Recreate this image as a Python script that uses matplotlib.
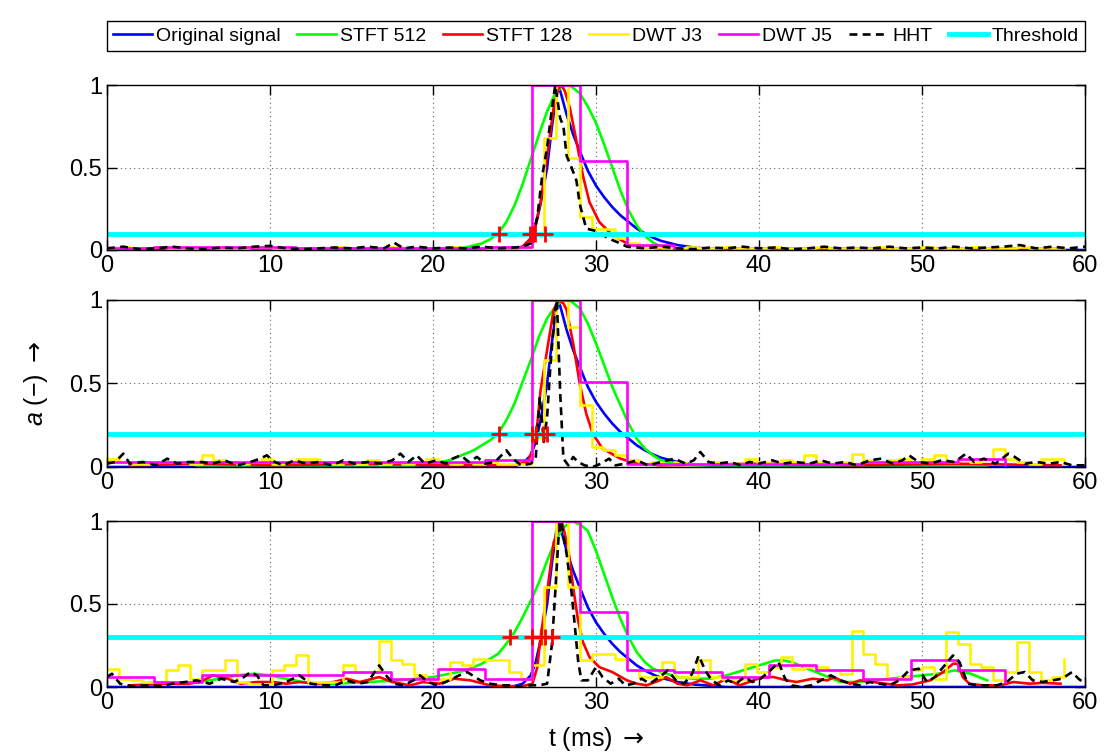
import numpy as np
import matplotlib
matplotlib.use("Agg")
import matplotlib.pyplot as plt

plt.rcParams['font.family'] = ['Liberation Sans', 'DejaVu Sans']
plt.rcParams['mathtext.fontset'] = 'custom'
plt.rcParams['mathtext.it'] = 'Liberation Sans:italic'
plt.rcParams['mathtext.rm'] = 'Liberation Sans'
plt.rcParams['mathtext.sf'] = 'DejaVu Sans'

# ---- data (t in ms, a normalised amplitude) ----
labels = ["Original signal", "STFT 512", "STFT 128", "DWT J3", "DWT J5", "HHT", "Threshold"]
thresholds = [0.1, 0.2, 0.3]

# block lengths of the wavelet decompositions (ms)
j3_block = 0.725
j5_block = 2.9

original_signal = [(0, 0), (24, 0), (25, 0.005), (25.5, 0.02), (26.0, 0.07), (26.3, 0.15), (26.6, 0.28),
                   (27.0, 0.50), (27.3, 0.75), (27.55, 0.93), (27.7, 1.0), (27.9, 0.93), (28.2, 0.82),
                   (28.6, 0.70), (29.0, 0.60), (29.5, 0.48), (30.0, 0.39), (30.5, 0.32), (31.0, 0.26),
                   (31.5, 0.21), (32.0, 0.17), (32.5, 0.13), (33.0, 0.10), (33.5, 0.075), (34.0, 0.055),
                   (35.0, 0.03), (36.0, 0.015), (38, 0), (60, 0)]

stft512_top = [(5.5, 0.005), (21, 0.005), (22, 0.015), (23, 0.04), (23.5, 0.065), (24, 0.10), (24.5, 0.17),
               (25, 0.27), (25.5, 0.40), (26, 0.55), (26.5, 0.70), (27, 0.84), (27.5, 0.95), (28, 1.0),
               (28.5, 0.99), (29, 0.95), (29.5, 0.87), (30, 0.77), (30.5, 0.64), (31, 0.50), (31.5, 0.36),
               (32, 0.24), (32.5, 0.15), (33, 0.085), (33.5, 0.045), (34, 0.02), (35, 0.005), (54, 0.005)]
stft512_mid = [(5.5, 0.01), (19, 0.01), (20, 0.02), (21, 0.04), (22, 0.08), (22.5, 0.10), (23, 0.13),
               (23.5, 0.16), (24, 0.20), (24.5, 0.28), (25, 0.38), (25.5, 0.51), (26, 0.64), (26.5, 0.78),
               (27, 0.89), (27.5, 0.96), (28, 1.0), (28.5, 0.99), (29, 0.95), (29.5, 0.86), (30, 0.74),
               (30.5, 0.61), (31, 0.48), (31.5, 0.37), (32, 0.26), (32.5, 0.17), (33, 0.11), (33.5, 0.07),
               (34, 0.04), (35, 0.02), (36, 0.01), (54, 0.01)]
stft512_bot = [(5.5, 0.03), (7, 0.05), (8, 0.07), (9, 0.08), (10, 0.07), (11, 0.05), (12, 0.03), (13, 0.02),
               (14, 0.02), (16, 0.03), (18, 0.04), (19, 0.05), (20, 0.06), (21, 0.08), (22, 0.10), (23, 0.14),
               (24, 0.20), (24.5, 0.26), (25, 0.33), (25.5, 0.42), (26, 0.52), (26.5, 0.63), (27, 0.76),
               (27.5, 0.88), (28, 0.96), (28.5, 1.0), (29, 0.98), (29.5, 0.94), (30, 0.82), (30.5, 0.68),
               (31, 0.54), (31.5, 0.41), (32, 0.30), (32.5, 0.21), (33, 0.15), (33.5, 0.11), (34, 0.09),
               (35, 0.06), (36, 0.05), (37, 0.05), (38, 0.07), (39, 0.10), (40, 0.13), (41, 0.16),
               (41.5, 0.16), (42, 0.15), (43, 0.11), (44, 0.07), (45, 0.03), (46, 0.03), (47, 0.04),
               (48, 0.05), (49, 0.06), (50, 0.07), (51, 0.08), (52, 0.10), (53, 0.08), (54, 0.04)]

stft128_top = [(1.4, 0.01), (25, 0.01), (25.5, 0.02), (26.0, 0.07), (26.3, 0.15), (26.6, 0.29), (27.0, 0.57),
               (27.4, 0.86), (27.7, 0.98), (27.9, 1.0), (28.1, 0.96), (28.4, 0.86), (28.8, 0.66), (29.2, 0.45),
               (29.6, 0.29), (30.2, 0.17), (31.0, 0.09), (31.9, 0.04), (32.7, 0.02), (34, 0.01), (58.5, 0.01)]
stft128_mid = [(1.4, 0.01), (6, 0.02), (10, 0.01), (16, 0.02), (20, 0.01), (25, 0.01), (25.8, 0.03),
               (26.1, 0.10), (26.4, 0.26), (26.6, 0.46), (27.0, 0.70), (27.4, 0.94), (27.7, 1.0), (28.0, 0.98),
               (28.2, 0.94), (28.6, 0.74), (29.0, 0.50), (29.4, 0.32), (29.8, 0.20), (30.4, 0.11), (31.5, 0.05),
               (32.5, 0.02), (34, 0.01), (40, 0.02), (46, 0.01), (52, 0.02), (58.5, 0.01)]
stft128_bot = [(1.4, 0.01), (3.7, 0.02), (5.0, 0.02), (5.7, 0.03), (6.5, 0.07), (7.4, 0.05), (8.2, 0.02),
               (9.2, 0.03), (10.2, 0.03), (11.0, 0.02), (11.8, 0.03), (12.9, 0.02), (13.9, 0.03), (14.7, 0.05),
               (15.5, 0.03), (16.7, 0.06), (17.5, 0.03), (18.6, 0.01), (19.4, 0.03), (20.4, 0.02), (21.3, 0.05),
               (22.3, 0.04), (23.5, 0.01), (24.5, 0.005), (25.5, 0.005), (26.1, 0.02), (26.4, 0.12),
               (26.6, 0.30), (27.0, 0.57), (27.4, 0.87), (27.9, 1.0), (28.3, 0.83), (28.6, 0.60), (28.9, 0.40),
               (29.2, 0.27), (29.6, 0.18), (30.2, 0.12), (31.0, 0.09), (31.9, 0.04), (32.5, 0.02), (33.1, 0.01),
               (33.9, 0.04), (34.3, 0.06), (35.0, 0.02), (35.6, 0.01), (36.4, 0.04), (37.2, 0.01), (38.0, 0.05),
               (38.8, 0.01), (39.4, 0.03), (40.2, 0.06), (40.9, 0.06), (41.7, 0.04), (42.3, 0.03), (43.3, 0.05),
               (44.2, 0.04), (44.6, 0.06), (45.0, 0.04), (45.6, 0.02), (46.2, 0.04), (47.0, 0.03), (48.5, 0.01),
               (49.4, 0.015), (50.5, 0.04), (51.3, 0.09), (51.9, 0.14), (52.2, 0.14), (52.5, 0.06), (52.9, 0.02),
               (53.7, 0.01), (54.8, 0.01), (55.6, 0.03), (56.6, 0.02), (57.4, 0.025), (58.5, 0.02)]

# DWT block values (one per block), last entry is the closing value
dwt_j3_top = [0.01, 0.02, 0.01, 0.01, 0.02, 0.01, 0.01, 0.01, 0.02, 0.01,
              0.01, 0.01, 0.02, 0.02, 0.01, 0.01, 0.01, 0.01, 0.01, 0.02,
              0.01, 0.01, 0.01, 0.01, 0.02, 0.01, 0.01, 0.01, 0.01, 0.02,
              0.01, 0.01, 0.01, 0.01, 0.01, 0.02, 0.10, 0.68, 1.0, 0.56,
              0.20, 0.13, 0.13, 0.07, 0.04, 0.02, 0.02, 0.01, 0.01, 0.02,
              0.01, 0.01, 0.02, 0.01, 0.01, 0.01, 0.02, 0.01, 0.01, 0.01,
              0.02, 0.01, 0.01, 0.01, 0.01, 0.02, 0.01, 0.01, 0.01, 0.02,
              0.01, 0.01, 0.01, 0.02, 0.01, 0.01, 0.01, 0.02, 0.01, 0.01, 0.01, 0.01]
dwt_j3_mid = [0.05, 0.03, 0.02, 0.02, 0.03, 0.03, 0.03, 0.02, 0.07, 0.04,
              0.03, 0.02, 0.03, 0.05, 0.02, 0.03, 0.05, 0.05, 0.03, 0.02,
              0.03, 0.02, 0.04, 0.02, 0.03, 0.02, 0.03, 0.05, 0.03, 0.02,
              0.03, 0.02, 0.03, 0.02, 0.02, 0.02, 0.18, 0.64, 1.0, 0.84,
              0.37, 0.12, 0.10, 0.07, 0.04, 0.02, 0.03, 0.02, 0.03, 0.02,
              0.02, 0.03, 0.02, 0.02, 0.05, 0.03, 0.02, 0.04, 0.03, 0.07,
              0.03, 0.02, 0.03, 0.08, 0.04, 0.03, 0.04, 0.05, 0.03, 0.05,
              0.07, 0.03, 0.04, 0.03, 0.04, 0.11, 0.05, 0.03, 0.02, 0.05, 0.05, 0.02]
dwt_j3_bot = [0.11, 0.05, 0.04, 0.03, 0.03, 0.10, 0.13, 0.05, 0.10, 0.10,
              0.16, 0.03, 0.02, 0.02, 0.10, 0.13, 0.19, 0.03, 0.03, 0.03,
              0.13, 0.09, 0.09, 0.28, 0.16, 0.14, 0.07, 0.04, 0.05, 0.15,
              0.13, 0.17, 0.16, 0.16, 0.09, 0.05, 0.13, 0.60, 1.0, 0.60,
              0.16, 0.20, 0.20, 0.17, 0.10, 0.06, 0.06, 0.15, 0.06, 0.06,
              0.16, 0.06, 0.05, 0.05, 0.14, 0.09, 0.12, 0.18, 0.11, 0.12,
              0.12, 0.10, 0.08, 0.34, 0.20, 0.14, 0.05, 0.06, 0.10, 0.12,
              0.05, 0.33, 0.26, 0.14, 0.12, 0.04, 0.09, 0.27, 0.09, 0.04, 0.06, 0.17]

dwt_j5_top = [0.01, 0.02, 0.02, 0.02, 0.01, 0.01, 0.01, 0.01, 0.02, 1.0, 0.54, 0.03, 0.0]
dwt_j5_mid = [0.03, 0.03, 0.03, 0.03, 0.03, 0.03, 0.03, 0.03, 0.04, 1.0,
              0.51, 0.02, 0.02, 0.02, 0.02, 0.02, 0.03, 0.03, 0.05, 0.0]
dwt_j5_bot = [0.06, 0.03, 0.07, 0.07, 0.07, 0.09, 0.05, 0.11, 0.05, 1.0,
              0.45, 0.10, 0.09, 0.06, 0.13, 0.10, 0.05, 0.16, 0.10, 0.03]

hht_top = [(0, 0.01), (1, 0.02), (2, 0.005), (3, 0.01), (4, 0.02), (5, 0.01), (6, 0.005), (7, 0.015),
           (8, 0.01), (9, 0.02), (10, 0.025), (11, 0.01), (12, 0.005), (13, 0.01), (14, 0.015), (15, 0.01),
           (16, 0.02), (17, 0.01), (17.6, 0.045), (18.2, 0.01), (19, 0.02), (20, 0.01), (21, 0.015),
           (22, 0.01), (23, 0.02), (24, 0.01), (25, 0.015), (25.5, 0.02), (26.0, 0.04), (26.4, 0.2),
           (26.7, 0.45), (27.0, 0.62), (27.3, 0.86), (27.5, 1.0), (27.65, 0.9), (27.8, 0.8), (28.0, 0.75),
           (28.2, 0.57), (28.5, 0.5), (28.8, 0.42), (29.0, 0.28), (29.4, 0.13), (29.8, 0.12), (30.2, 0.11),
           (30.6, 0.08), (31.0, 0.06), (31.5, 0.04), (31.9, 0.02), (32.5, 0.015), (33, 0.01), (34, 0.02),
           (35, 0.01), (36, 0.005), (37, 0.015), (38, 0.01), (39, 0.02), (40, 0.01), (41, 0.015), (42, 0.005),
           (43, 0.01), (44, 0.02), (45, 0.01), (46, 0.015), (47, 0.01), (48, 0.02), (49, 0.01), (50, 0.015),
           (51, 0.01), (52, 0.02), (53, 0.01), (54, 0.015), (55, 0.02), (56, 0.03), (57, 0.01), (58, 0.02),
           (59, 0.01), (60, 0.02)]
hht_mid = [(0, 0.02), (0.5, 0.03), (1.0, 0.08), (1.4, 0.02), (2.2, 0.03), (3.0, 0.01), (3.7, 0.05), (4.3, 0.02),
           (5.0, 0.03), (5.8, 0.03), (6.5, 0.02), (7.2, 0.04), (8.0, 0.01), (8.8, 0.03), (9.4, 0.05), (9.8, 0.07),
           (10.3, 0.03), (10.8, 0.01), (11.5, 0.04), (12.2, 0.02), (13.0, 0.03), (13.8, 0.01), (14.5, 0.04),
           (15.2, 0.02), (16.0, 0.03), (16.8, 0.02), (17.5, 0.04), (18.0, 0.08), (18.5, 0.03), (19.0, 0.07),
           (19.5, 0.02), (20.2, 0.04), (20.8, 0.02), (21.2, 0.05), (21.7, 0.07), (22.2, 0.03), (22.7, 0.06),
           (23.2, 0.02), (23.8, 0.03), (24.5, 0.10), (24.9, 0.05), (25.4, 0.01), (26.0, 0.02), (26.3, 0.05),
           (26.55, 0.42), (26.8, 0.15), (27.0, 0.30), (27.2, 0.60), (27.45, 0.9), (27.6, 1.0), (27.8, 0.45),
           (28.0, 0.05), (28.3, 0.01), (28.6, 0.06), (28.9, 0.03), (29.3, 0.01), (29.8, 0.0), (30.3, 0.02),
           (30.8, 0.05), (31.2, 0.01), (31.8, 0.02), (32.5, 0.04), (33.2, 0.01), (34.0, 0.03), (34.8, 0.05),
           (35.5, 0.02), (36.0, 0.04), (36.4, 0.09), (36.9, 0.03), (37.5, 0.02), (38.2, 0.03), (38.9, 0.01),
           (39.4, 0.03), (40.0, 0.02), (40.8, 0.04), (41.5, 0.02), (42.2, 0.03), (43.1, 0.02), (43.8, 0.04),
           (44.5, 0.02), (45.3, 0.03), (46.0, 0.01), (46.8, 0.04), (47.5, 0.05), (48.2, 0.02), (48.8, 0.04),
           (49.2, 0.07), (49.8, 0.03), (50.5, 0.02), (51.2, 0.04), (52.0, 0.03), (52.7, 0.08), (53.2, 0.03),
           (53.8, 0.05), (54.5, 0.02), (55.3, 0.08), (55.7, 0.06), (56.3, 0.02), (57.0, 0.03), (57.8, 0.02),
           (58.5, 0.03), (59.2, 0.01), (60, 0.01)]
hht_bot = [(0, 0.06), (0.3, 0.08), (0.8, 0.02), (1.5, 0.005), (2.5, 0.01), (3.3, 0.005), (4.0, 0.02), (4.8, 0.03),
           (5.5, 0.04), (6.3, 0.02), (7.0, 0.05), (7.8, 0.03), (8.4, 0.06), (8.8, 0.09), (9.2, 0.07), (9.6, 0.01),
           (10.2, 0.01), (11.0, 0.03), (11.8, 0.07), (12.5, 0.02), (13.3, 0.01), (14.0, 0.01), (14.7, 0.04),
           (15.4, 0.02), (16.0, 0.03), (16.7, 0.13), (17.2, 0.06), (17.6, 0.02), (18.2, 0.01), (18.8, 0.04),
           (19.2, 0.07), (19.7, 0.03), (20.3, 0.01), (21.0, 0.04), (21.6, 0.07), (22.1, 0.09), (22.9, 0.04),
           (23.5, 0.02), (24.2, 0.01), (24.8, 0.01), (25.5, 0.0), (26.0, 0.01), (26.5, 0.01), (27.0, 0.02),
           (27.3, 0.26), (27.5, 0.57), (27.7, 0.9), (27.85, 1.0), (28.2, 0.80), (28.5, 0.57), (28.7, 0.37),
           (28.9, 0.16), (29.1, 0.04), (29.5, 0.04), (30.0, 0.12), (30.4, 0.06), (30.9, 0.02), (31.4, 0.05),
           (31.8, 0.01), (32.3, 0.02), (32.8, 0.05), (33.3, 0.02), (33.9, 0.06), (34.4, 0.10), (34.9, 0.04),
           (35.4, 0.02), (35.9, 0.08), (36.3, 0.19), (36.7, 0.10), (37.1, 0.04), (37.6, 0.01), (38.1, 0.04),
           (38.6, 0.02), (39.1, 0.06), (39.6, 0.03), (40.1, 0.05), (40.7, 0.10), (41.2, 0.15), (41.6, 0.05),
           (42.0, 0.01), (42.6, 0.0), (43.2, 0.01), (43.8, 0.04), (44.4, 0.07), (45.0, 0.04), (45.6, 0.02),
           (46.2, 0.01), (46.8, 0.03), (47.4, 0.02), (48.0, 0.01), (48.6, 0.04), (49.2, 0.10), (49.8, 0.11),
           (50.3, 0.03), (50.8, 0.06), (51.3, 0.12), (51.9, 0.19), (52.3, 0.15), (52.8, 0.02), (53.4, 0.01),
           (54.0, 0.01), (54.6, 0.01), (55.2, 0.03), (55.8, 0.08), (56.3, 0.09), (56.8, 0.04), (57.4, 0.03),
           (58.0, 0.04), (58.6, 0.05), (59.2, 0.09), (59.6, 0.05), (60, 0.02)]

# detected onsets (threshold crossings), one list per panel
onsets_top = [24.05, 25.95, 26.15, 26.25, 26.9]
onsets_mid = [24.05, 26.1, 26.3, 26.75, 27.0]
onsets_bot = [24.7, 26.1, 26.6, 26.9, 27.3]

panels = [
    (stft512_top, stft128_top, dwt_j3_top, dwt_j5_top, hht_top, thresholds[0], onsets_top),
    (stft512_mid, stft128_mid, dwt_j3_mid, dwt_j5_mid, hht_mid, thresholds[1], onsets_mid),
    (stft512_bot, stft128_bot, dwt_j3_bot, dwt_j5_bot, hht_bot, thresholds[2], onsets_bot),
]

LW = 1.9
colors = [(0, 0, 1), (0, 1, 0), (1, 0, 0), (1, 0.95, 0), (1, 0, 1), 'black', (0, 1, 1)]


def unzip(points):
    t, a = zip(*points)
    return list(t), list(a)


def plot_blocks(ax, values, block, color):
    # stair plot: one level per block, last value closes the staircase
    edges = np.arange(len(values)) * block
    return ax.step(edges, values, where='post', color=color, lw=LW)[0]


def plot_panel(ax, panel):
    stft512, stft128, j3, j5, hht, thr, onsets = panel
    handles = []
    handles += ax.plot(*unzip(original_signal), color=colors[0], lw=LW)
    handles += ax.plot(*unzip(stft512), color=colors[1], lw=LW)
    handles += ax.plot(*unzip(stft128), color=colors[2], lw=LW)
    handles.append(plot_blocks(ax, j3, j3_block, colors[3]))
    handles.append(plot_blocks(ax, j5, j5_block, colors[4]))
    handles += ax.plot(*unzip(hht), color=colors[5], lw=LW, ls=(0, (3, 2)))
    handles.append(ax.axhline(thr, color=colors[6], lw=3.5))
    ax.plot(onsets, [thr] * len(onsets), '+', color='red', ms=11, mew=2, zorder=5)

    ax.set_xlim(0, 60)
    ax.set_ylim(0, 1)
    ax.set_xticks(range(0, 61, 10))
    ax.set_yticks([0, 0.5, 1])
    ax.set_yticklabels(['0', '0.5', '1'])
    ax.tick_params(direction='in', top=True, right=True, length=7, width=1, labelsize=17)
    ax.grid(True, ls=(0, (1, 3)), color='0.4', lw=0.8)
    for sp in ax.spines.values():
        sp.set_linewidth(1)
    return handles


fig = plt.figure(figsize=(11.05, 7.56), dpi=100)
left, width = 107 / 1105, 978 / 1105
tops = [85, 300, 521]
bottoms = [250, 467, 687]
axes = []
for top, bottom in zip(tops, bottoms):
    axes.append(fig.add_axes([left, 1 - bottom / 756, width, (bottom - top) / 756]))

handles = None
for ax, panel in zip(axes, panels):
    h = plot_panel(ax, panel)
    if handles is None:
        handles = h

axes[1].set_ylabel(r'$a$ (−) $\mathsf{\rightarrow}$', fontsize=18, labelpad=14)
axes[2].set_xlabel(r't (ms) $\mathsf{\rightarrow}$', fontsize=18, labelpad=8)

leg = fig.legend(handles, labels, ncol=7, loc='center', mode='expand',
                 bbox_to_anchor=(left, 1 - 52 / 756, width, 32 / 756),
                 fontsize=14, handlelength=2.0, handletextpad=0.2, columnspacing=0.6,
                 borderpad=0.3, borderaxespad=0, fancybox=False, framealpha=1, edgecolor='black')
leg.get_frame().set_linewidth(1)

fig.savefig('out.png', dpi=100)
